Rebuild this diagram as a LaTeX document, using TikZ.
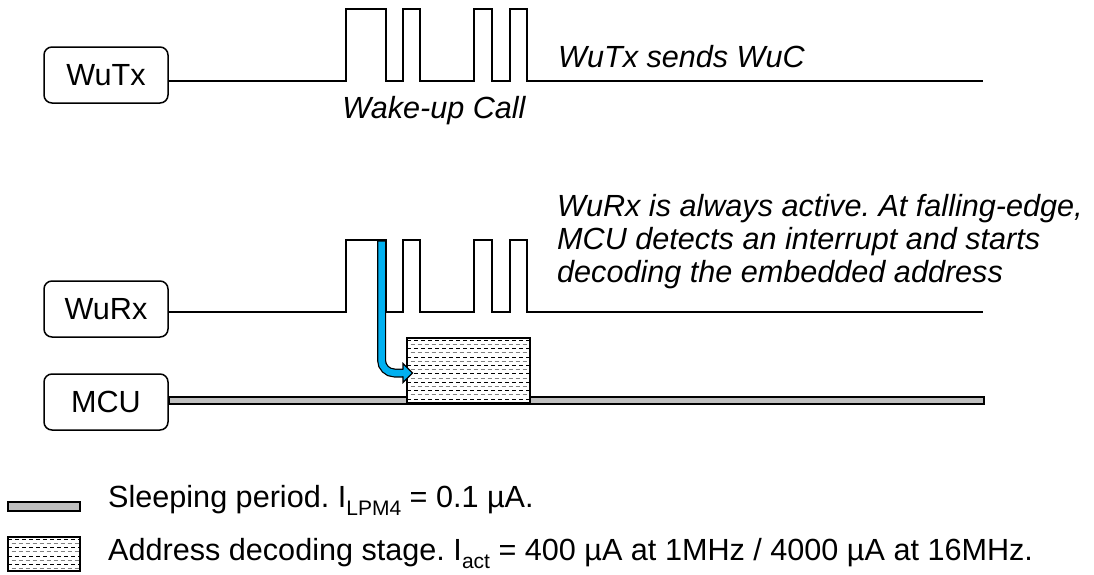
\documentclass[tikz,border=0pt]{standalone}
\usepackage{fontspec}
\setmainfont{Liberation Sans}
\frenchspacing
\definecolor{arrowblue}{RGB}{0,176,240}
\definecolor{bargray}{RGB}{191,191,191}
\definecolor{hatchgray}{RGB}{128,128,128}
\newcommand\hatchrows[5]{% x1 y1 x2 y2 rows
  \begin{scope}
    \clip (#1,#2) rectangle (#3,#4);
    \foreach \k in {0,...,#5} {
      \pgfmathsetmacro\yy{#2+2.2+4.2*\k}
      \ifodd\k
        \draw[hatchgray, line width=0.9pt, dash pattern=on 4pt off 3pt, dash phase=3.5pt] (#1,\yy) -- (#3,\yy);
      \else
        \draw[black, line width=0.9pt, dash pattern=on 4pt off 3pt] (#1,\yy) -- (#3,\yy);
      \fi
    }
  \end{scope}}
\newcommand\subtxt[1]{\raisebox{-0.28em}{\fontsize{21}{21}\selectfont #1}}
\tikzset{
  box/.style={draw, line width=1.5pt, rounded corners=8pt, minimum width=124pt, minimum height=56pt, inner sep=0pt, font=\fontsize{30.6}{34}\selectfont},
  sig/.style={line width=1.8pt, line join=miter},
  lbl/.style={inner sep=0pt, font=\fontsize{30.6}{34}\selectfont\itshape, anchor=base west},
  leg/.style={inner sep=0pt, font=\fontsize{30.6}{34}\selectfont, anchor=base west},
  barst/.style={draw, line width=1.5pt, fill=bargray},
}
\begin{document}
\begin{tikzpicture}[x=1pt,y=-1pt]
\useasboundingbox (0,0) rectangle (1094,574);
% boxes
\node[box] (wutx) at (106,75) {WuTx};
\node[box] (wurx) at (106,309) {WuRx};
\node[box] (mcu) at (106,402) {MCU};
% top waveform
\coordinate (tlev) at (0,81);
\coordinate (tend) at (983,81);
\draw[sig] (wutx.east |- tlev) -- (346,81) -- (346,9) -- (386,9) -- (386,81)
  -- (403,81) -- (403,9) -- (420,9) -- (420,81) -- (474,81) -- (474,9)
  -- (492,9) -- (492,81) -- (510,81) -- (510,9) -- (527,9) -- (527,81) -- (tend);
\node[lbl] (wuc) at (434,118) [anchor=base] {Wake-up Call};
\node[lbl] (sends) at (558,67) {WuTx sends WuC};
% bottom waveform
\coordinate (blev) at (0,312);
\coordinate (bend) at (983,312);
\draw[sig] (wurx.east |- blev) -- (346,312) -- (346,240) -- (386,240) -- (386,312)
  -- (403,312) -- (403,240) -- (420,240) -- (420,312) -- (474,312) -- (474,240)
  -- (492,240) -- (492,312) -- (510,312) -- (510,240) -- (527,240) -- (527,312) -- (bend);
\node[lbl] (r1) at (557,216) {WuRx is always active. At falling-edge,};
\node[lbl] (r2) at (557,249) {MCU detects an interrupt and starts};
\node[lbl] (r3) at (557,282) {decoding the embedded address};
% MCU bar
\coordinate (mtop) at (0,397);
\coordinate (mend) at (984,404);
\draw[barst] (mcu.east |- mtop) rectangle (mend);
% decoding box
\fill[white] (407,338) rectangle (530,403);
\hatchrows{407}{338}{530}{403}{15}
\node[draw, line width=1.5pt, minimum width=123pt, minimum height=65pt, inner sep=0pt] (dec) at (468.5,370.5) {};
% arrow
\coordinate (as) at (381.5,240.5);
\coordinate (ae) at (403.5,373);
\draw[line width=9pt, black, rounded corners=13pt] (as) |- (ae);
\draw[line width=6.5pt, arrowblue, rounded corners=13pt] (381.5,241.5) |- (404,373);
\filldraw[fill=arrowblue, draw=black, line width=1.1pt, line join=miter]
  (403,369.6) -- (403,363.5) -- (412.5,373) -- (403,382.5) -- (403,376.4);
% legend
\draw[barst] (8,502) rectangle (80,511);
\node[leg] (l1) at (108,507) {Sleeping period. I\subtxt{LPM4} = 0.1 µA.};
\fill[white] (8,537) rectangle (80,571);
\hatchrows{8}{537}{80}{571}{8}
\draw[line width=1.5pt] (8,537) rectangle (80,571);
\node[leg] (l2) at (108,560) {Address decoding stage. I\subtxt{act} = 400 µA at 1MHz / 4000 µA at 16MHz.};
\end{tikzpicture}
\end{document}
